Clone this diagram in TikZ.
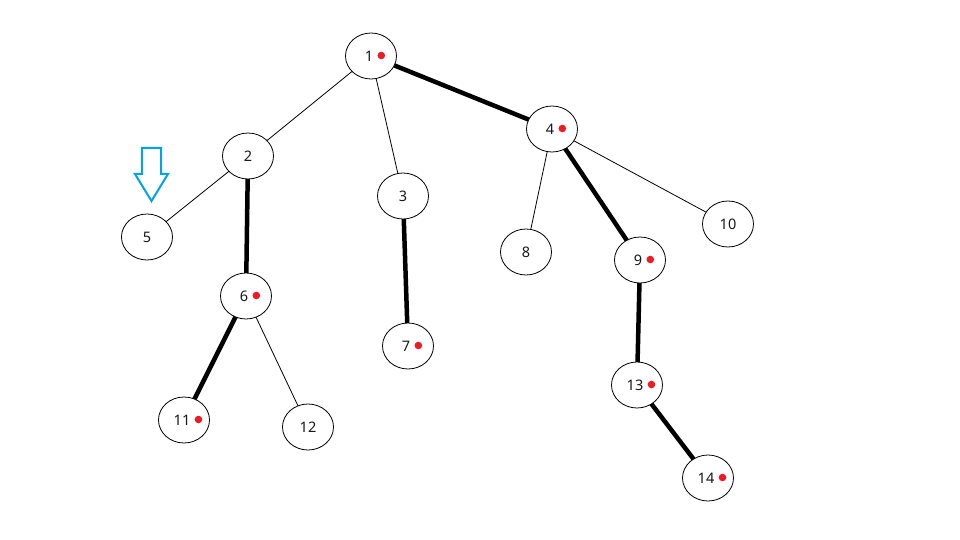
\documentclass[tikz,border=0pt]{standalone}
\usepackage{fontspec}
\setmainfont{Noto Sans}
\usetikzlibrary{shapes.geometric}
\definecolor{arrowblue}{RGB}{0,162,232}
\definecolor{dotred}{RGB}{237,28,36}
\tikzset{
  vert/.style={draw, ellipse, line width=0.8pt, minimum width=51pt, minimum height=46pt, inner sep=0pt, fill=white},
  num/.style={inner sep=0.5pt, font=\fontsize{14.5}{16}\selectfont, text=black!90},
  thin edge/.style={line width=0.8pt},
  thick edge/.style={line width=4.5pt},
  reddot/.style={fill=dotred},
  hollowarrow/.style={draw=arrowblue, line width=2pt, line join=miter}
}
\newcommand{\vtx}[4]{% name, x, y, label
  \node[vert] (#1) at (#2,#3) {};
  \node[num] (#1t) at (#1.center) {#4};
}
\newcommand{\vtxdot}[4]{% name, x, y, label (with red dot)
  \node[vert] (#1) at (#2,#3) {};
  \node[num] (#1t) at ([xshift=-2pt]#1.center) {#4};
  \fill[reddot] ([xshift=7.5pt,yshift=0.5pt]#1t.east) circle (3.8pt);
}
\begin{document}
\begin{tikzpicture}[x=1pt,y=-1pt]
\useasboundingbox (0,0) rectangle (960,540);
% edges first (drawn below nodes)
\coordinate (c1) at (371,56);
\coordinate (c2) at (248,156);
\coordinate (c3) at (403,196);
\coordinate (c4) at (552,129);
\coordinate (c5) at (147,237);
\coordinate (c6) at (246,296);
\coordinate (c7) at (408,346);
\coordinate (c8) at (526,252);
\coordinate (c9) at (640,260);
\coordinate (c10) at (728,224);
\coordinate (c11) at (184,420);
\coordinate (c12) at (308,427);
\coordinate (c13) at (637,385);
\coordinate (c14) at (708,478);
\draw[thin edge] (c1) -- (c2);
\draw[thin edge] (c1) -- (c3);
\draw[thick edge] (c1) -- (c4);
\draw[thin edge] (c2) -- (c5);
\draw[thick edge] (c2) -- (c6);
\draw[thick edge] (c3) -- (c7);
\draw[thin edge] (c4) -- (c8);
\draw[thick edge] (c4) -- (c9);
\draw[thin edge] (c4) -- (c10);
\draw[thick edge] (c6) -- (c11);
\draw[thin edge] (c6) -- (c12);
\draw[thick edge] (c9) -- (c13);
\draw[thick edge] (c13) -- (c14);
% nodes
\vtxdot{n1}{371}{56}{1}
\vtx{n2}{248}{156}{2}
\vtx{n3}{403}{196}{3}
\vtxdot{n4}{552}{129}{4}
\vtx{n5}{147}{237}{5}
\vtxdot{n6}{246}{296}{6}
\vtxdot{n7}{408}{346}{7}
\vtx{n8}{526}{252}{8}
\vtxdot{n9}{640}{260}{9}
\vtx{n10}{728}{224}{10}
\vtxdot{n11}{184}{420}{11}
\vtx{n12}{308}{427}{12}
\vtxdot{n13}{637}{385}{13}
\vtxdot{n14}{708}{478}{14}
% hollow arrow
\draw[hollowarrow] (142,148) -- (161,148) -- (161,174) -- (168,174) -- (151.5,201) -- (135,174) -- (142,174) -- cycle;
\end{tikzpicture}
\end{document}
